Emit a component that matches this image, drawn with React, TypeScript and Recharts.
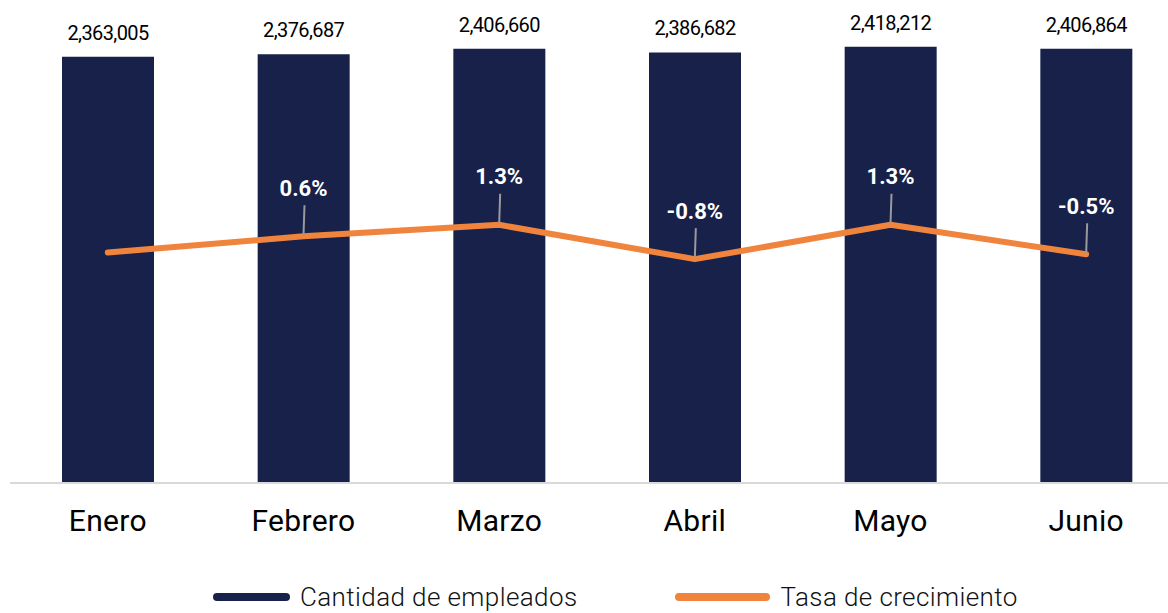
import React from "react";
import {
  Bar,
  ComposedChart,
  LabelList,
  Legend,
  Line,
  XAxis,
  YAxis
} from "recharts";

const months = ["Enero", "Febrero", "Marzo", "Abril", "Mayo", "Junio"];
const employees = [2363005, 2376687, 2406660, 2386682, 2418212, 2406864];
// Enero has no printed rate; its value is estimated from where the line starts
const growth = [-0.4, 0.6, 1.3, -0.8, 1.3, -0.5];
const showGrowthLabel = [false, true, true, true, true, true];

const data = months.map((month, i) => ({
  month,
  employees: employees[i],
  growth: growth[i]
}));

const NAVY = "#17214a";
const ORANGE = "#f0843c";
const FONT = "Roboto, 'Noto Sans', sans-serif";

function GrowthLabel(props: any) {
  const { x, y, value, index } = props;
  if (!showGrowthLabel[index]) return null;
  return (
    <g>
      <line x1={x + 1} y1={y - 31} x2={x} y2={y - 1} stroke="#9a9a9a" strokeWidth={2} />
      <text
        x={x}
        y={y - 48}
        textAnchor="middle"
        dominantBaseline="central"
        fill="#ffffff"
        fontFamily={FONT}
        fontWeight={700}
        fontSize={22}
      >
        {`${value.toFixed(1)}%`}
      </text>
    </g>
  );
}

const legendItems = [
  { label: "Cantidad de empleados", color: NAVY, width: 77 },
  { label: "Tasa de crecimiento", color: ORANGE, width: 95 }
];

function ChartLegend() {
  return (
    <div
      style={{
        display: "flex",
        alignItems: "flex-end",
        height: 50,
        paddingLeft: 203,
        fontFamily: FONT
      }}
    >
      {legendItems.map((item, i) => (
        <div
          key={item.label}
          style={{
            display: "flex",
            alignItems: "center",
            height: 26,
            marginLeft: i === 0 ? 0 : 98
          }}
        >
          <div
            style={{
              width: item.width,
              height: 8,
              borderRadius: 4,
              background: item.color,
              marginRight: 10
            }}
          />
          <span style={{ fontSize: 26, fontWeight: 300, letterSpacing: 0.4, color: "#111" }}>
            {item.label}
          </span>
        </div>
      ))}
    </div>
  );
}

export default function App() {
  return (
    <div
      style={{
        position: "absolute",
        left: 0,
        top: 0,
        width: 1168,
        height: 613,
        overflow: "hidden",
        background: "#fff"
      }}
    >
      <ComposedChart
        width={1184}
        height={613}
        data={data}
        margin={{ top: 32, right: 0, left: 10, bottom: 3 }}
      >
        <XAxis
          dataKey="month"
          height={77}
          tickLine={false}
          tickSize={0}
          tickMargin={27}
          axisLine={{ stroke: "#d9d9d9", strokeWidth: 2 }}
          tick={{ fill: "#000", fontSize: 30, letterSpacing: 0.3, fontFamily: FONT }}
        />
        <YAxis yAxisId="emp" hide domain={[0, 2500000]} />
        <YAxis yAxisId="rate" hide orientation="right" domain={[-14.5, 13.1]} />
        <Legend verticalAlign="bottom" height={50} content={() => <ChartLegend />} />
        <Bar
          yAxisId="emp"
          dataKey="employees"
          name="Cantidad de empleados"
          fill={NAVY}
          barSize={92}
          isAnimationActive={false}
        >
          <LabelList
            dataKey="employees"
            position="top"
            offset={17}
            formatter={(v: any) => Number(v).toLocaleString("en-US")}
            style={{ fill: "#000", fontSize: 20, letterSpacing: -0.6, fontFamily: FONT }}
          />
        </Bar>
        <Line
          yAxisId="rate"
          dataKey="growth"
          name="Tasa de crecimiento"
          stroke={ORANGE}
          strokeWidth={6}
          strokeLinecap="round"
          strokeLinejoin="round"
          dot={false}
          activeDot={false}
          isAnimationActive={false}
        >
          <LabelList dataKey="growth" content={<GrowthLabel />} />
        </Line>
      </ComposedChart>
    </div>
  );
}
